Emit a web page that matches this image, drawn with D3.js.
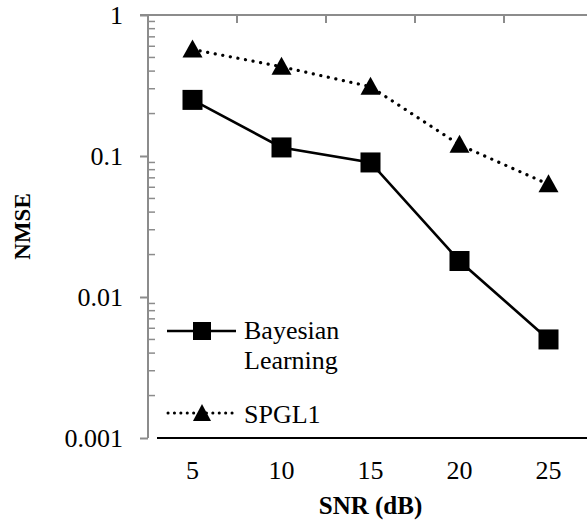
<!DOCTYPE html>
<html>
<head>
<meta charset="utf-8">
<script src="https://cdn.jsdelivr.net/npm/d3@7"></script>
<style>
  body { margin: 0; background: #fff; }
  svg { display: block; font-family: "Liberation Serif", serif; }
</style>
</head>
<body>
<svg id="chart" width="587" height="529"></svg>
<script>
// SNR categories and NMSE values
const snrLabels = ["5", "10", "15", "20", "25"];
const bayesianNmse = [0.25, 0.115, 0.09, 0.018, 0.005];
const spgl1Nmse = [0.57, 0.43, 0.31, 0.12, 0.063];
const yTickValues = [0.001, 0.01, 0.1, 1];
const yTickLabels = ["0.001", "0.01", "0.1", "1"];

const svg = d3.select('#chart');
const plotLeft = 148, plotRight = 593, plotTop = 15, plotBottom = 438;
const gray = '#8c8c8c';
const fontFam = '"Liberation Serif", serif';

const x = d3.scaleBand().domain(snrLabels).range([plotLeft, plotRight]).padding(0);
const y = d3.scaleLog().domain([0.001, 1]).range([plotBottom, plotTop]);
const cx = d => x(d) + x.bandwidth() / 2;

// minor ticks (2..9 per decade), inside the plot
const minor = [];
for (let k = -3; k < 0; k++) {
  for (let m = 2; m <= 9; m++) minor.push(m * Math.pow(10, k));
}
svg.append('g')
  .selectAll('line')
  .data(minor)
  .join('line')
  .attr('x1', plotLeft).attr('x2', plotLeft + 7)
  .attr('y1', d => y(d)).attr('y2', d => y(d))
  .attr('stroke', gray).attr('stroke-width', 1.5);

// top axis line with category boundary ticks pointing down
svg.append('line')
  .attr('x1', plotLeft - 8).attr('x2', plotRight)
  .attr('y1', plotTop).attr('y2', plotTop)
  .attr('stroke', gray).attr('stroke-width', 2);
svg.append('g')
  .selectAll('line')
  .data(snrLabels.slice(1))
  .join('line')
  .attr('x1', d => x(d)).attr('x2', d => x(d))
  .attr('y1', plotTop).attr('y2', plotTop + 8)
  .attr('stroke', gray).attr('stroke-width', 2);

// left axis
const yAxis = d3.axisLeft(y)
  .tickValues(yTickValues)
  .tickFormat((d, i) => yTickLabels[i])
  .tickSize(8)
  .tickPadding(17);
const gy = svg.append('g')
  .attr('transform', `translate(${plotLeft},0)`)
  .call(yAxis);
gy.select('.domain').attr('stroke', gray).attr('stroke-width', 2)
  .attr('d', `M0,${plotTop}V${plotBottom}`);
gy.selectAll('.tick line').attr('stroke', gray).attr('stroke-width', 2);
gy.selectAll('.tick text')
  .attr('fill', '#000')
  .style('font-family', fontFam)
  .style('font-size', '26px');

// bottom line
svg.append('line')
  .attr('x1', plotLeft + 9).attr('x2', 587)
  .attr('y1', plotBottom).attr('y2', plotBottom)
  .attr('stroke', '#000').attr('stroke-width', 2);

// x tick labels
const xAxis = d3.axisBottom(x).tickSize(0).tickPadding(23);
const gx = svg.append('g')
  .attr('transform', `translate(0,${plotBottom})`)
  .call(xAxis);
gx.select('.domain').remove();
gx.selectAll('.tick text')
  .attr('fill', '#000')
  .style('font-family', fontFam)
  .style('font-size', '26px');

// series lines
const line = d3.line().x((d, i) => cx(snrLabels[i])).y(d => y(d));
svg.append('path')
  .datum(spgl1Nmse)
  .attr('d', line)
  .attr('fill', 'none').attr('stroke', '#000')
  .attr('stroke-width', 3.2)
  .attr('stroke-linecap', 'round')
  .attr('stroke-dasharray', '0.1 7.6');
svg.append('path')
  .datum(bayesianNmse)
  .attr('d', line)
  .attr('fill', 'none').attr('stroke', '#000')
  .attr('stroke-width', 2.6);

// markers
const sq = 20;
svg.append('g')
  .selectAll('rect')
  .data(bayesianNmse)
  .join('rect')
  .attr('x', (d, i) => cx(snrLabels[i]) - sq / 2)
  .attr('y', d => y(d) - sq / 2)
  .attr('width', sq).attr('height', sq)
  .attr('fill', '#000');

const tri = (px, py) => `M${px},${py - 10}L${px + 10},${py + 8}L${px - 10},${py + 8}Z`;
svg.append('g')
  .selectAll('path')
  .data(spgl1Nmse)
  .join('path')
  .attr('d', (d, i) => tri(cx(snrLabels[i]), y(d)))
  .attr('fill', '#000');

// legend
const lg = svg.append('g').style('font-size', '26px');
lg.append('line')
  .attr('x1', 167).attr('x2', 236).attr('y1', 331).attr('y2', 331)
  .attr('stroke', '#000').attr('stroke-width', 2.6);
lg.append('rect')
  .attr('x', 202 - 9).attr('y', 331 - 9).attr('width', 18).attr('height', 18)
  .attr('fill', '#000');
lg.append('text').attr('x', 244).attr('y', 339).text('Bayesian');
lg.append('text').attr('x', 244).attr('y', 369).text('Learning');

lg.append('line')
  .attr('x1', 168).attr('x2', 236).attr('y1', 413).attr('y2', 413)
  .attr('stroke', '#000').attr('stroke-width', 3)
  .attr('stroke-linecap', 'round')
  .attr('stroke-dasharray', '0.1 6.3');
lg.append('path')
  .attr('d', 'M202,404L211,421L193,421Z')
  .attr('fill', '#000');
lg.append('text').attr('x', 244).attr('y', 423).text('SPGL1');

// axis titles
svg.append('text')
  .attr('x', (plotLeft + plotRight) / 2).attr('y', 514)
  .attr('text-anchor', 'middle')
  .style('font-size', '25px').style('font-weight', 'bold')
  .text('SNR (dB)');
svg.append('text')
  .attr('transform', `translate(30,${(plotTop + plotBottom) / 2}) rotate(-90)`)
  .attr('text-anchor', 'middle')
  .style('font-size', '23px').style('font-weight', 'bold')
  .text('NMSE');
</script>
</body>
</html>
